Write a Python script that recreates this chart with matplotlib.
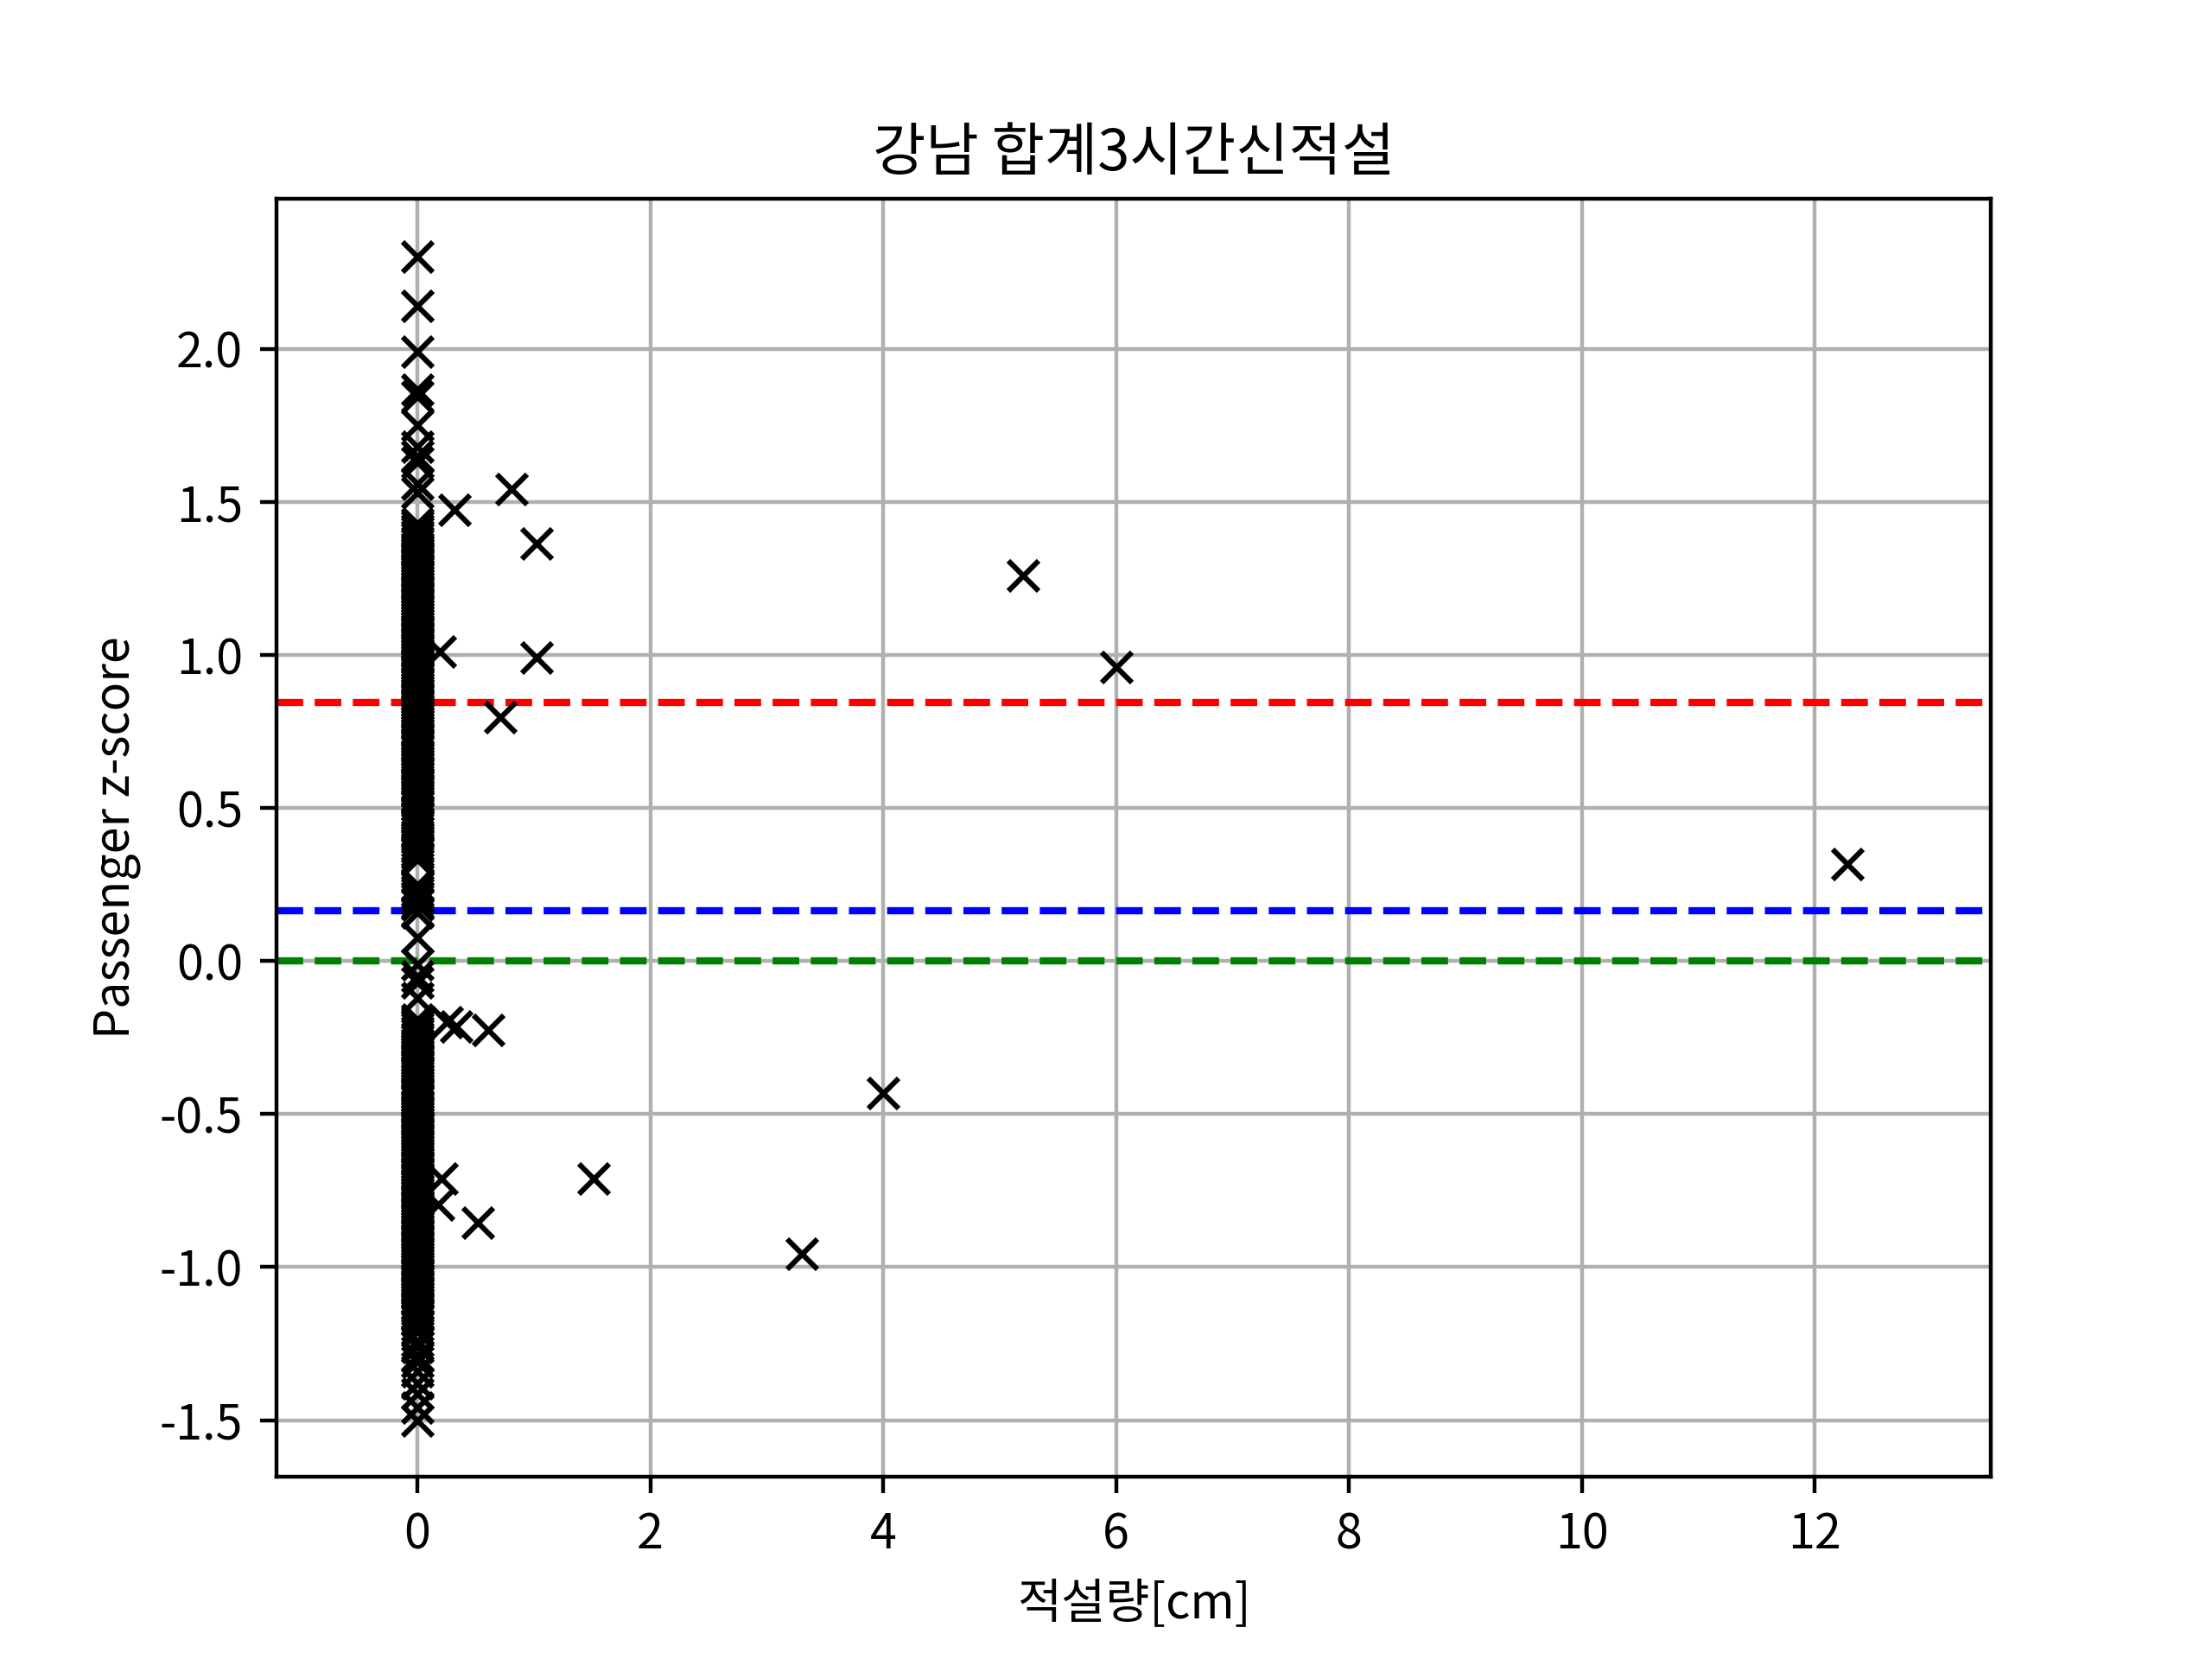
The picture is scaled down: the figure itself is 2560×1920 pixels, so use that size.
import matplotlib.pyplot as plt

plt.rcParams["font.family"] = ["Noto Sans CJK KR", "DejaVu Sans"]
plt.rcParams["axes.unicode_minus"] = False

# days without snow (적설량 0 cm): passenger z-scores
zero_snow_z = [
    2.30, 2.14, 1.99, 1.865, 1.845, 1.75, 1.68, 1.65, 1.63, 1.56, 1.53,
    1.43, 1.42, 1.41, 1.40, 1.39, 1.38, 1.37, 1.36, 1.35, 1.34,
    1.33, 1.32, 1.31, 1.30, 1.29, 1.28, 1.27, 1.26, 1.25, 1.24,
    1.23, 1.22, 1.21, 1.20, 1.19, 1.18, 1.17, 1.16, 1.15, 1.14,
    1.13, 1.12, 1.11, 1.10, 1.09, 1.08, 1.07, 1.06, 1.05, 1.04,
    1.03, 1.02, 1.01, 1.00, 0.99, 0.98, 0.97, 0.96, 0.95, 0.94,
    0.93, 0.92, 0.91, 0.90, 0.89, 0.88, 0.87, 0.86, 0.85, 0.84,
    0.83, 0.82, 0.81, 0.80, 0.79, 0.78, 0.77, 0.76, 0.75, 0.74,
    0.73, 0.72, 0.71, 0.70, 0.69, 0.67, 0.66, 0.65, 0.64, 0.63,
    0.62, 0.61, 0.60, 0.59, 0.58, 0.57, 0.56, 0.55, 0.54, 0.53,
    0.52, 0.51, 0.49, 0.48, 0.47, 0.45, 0.44, 0.42, 0.41, 0.40,
    0.39, 0.38, 0.37, 0.36, 0.35, 0.34, 0.33,
    0.25, 0.24, 0.23, 0.22, 0.21, 0.20, 0.19, 0.184, 0.16, 0.076,
    -0.01, -0.05, -0.07, -0.12,
    -0.19, -0.20, -0.21, -0.22, -0.23, -0.24, -0.25, -0.26, -0.27, -0.28,
    -0.29, -0.30, -0.31, -0.32, -0.33, -0.34, -0.35, -0.36, -0.37, -0.39,
    -0.40, -0.41, -0.42, -0.43, -0.44, -0.45, -0.46, -0.47, -0.48, -0.49,
    -0.50, -0.51, -0.52, -0.53, -0.54, -0.55, -0.56, -0.57, -0.58, -0.59,
    -0.60, -0.61, -0.62, -0.63, -0.64, -0.65, -0.66, -0.67, -0.68, -0.69,
    -0.70, -0.71, -0.72, -0.73, -0.74, -0.75, -0.76, -0.77, -0.78, -0.79,
    -0.80, -0.81, -0.82, -0.83, -0.84, -0.85, -0.86, -0.87, -0.88, -0.89,
    -0.90, -0.91, -0.92, -0.93, -0.94, -0.95, -0.96, -0.97, -0.98, -0.99,
    -1.00, -1.01, -1.02, -1.03, -1.04, -1.05, -1.06, -1.07, -1.08, -1.09,
    -1.10, -1.11, -1.12, -1.13, -1.14, -1.15, -1.16, -1.17,
    -1.19, -1.21, -1.24, -1.26, -1.29, -1.31, -1.34, -1.38, -1.415, -1.46, -1.50,
]

# days with snow
snow_cm = [0.19, 0.32, 0.81, 1.02, 1.02, 0.71, 5.2, 6.0, 12.28,
           0.25, 0.33, 0.61, 0.21, 0.18, 0.52, 1.51, 4.0, 3.3]
snow_z = [1.01, 1.473, 1.543, 1.363, 0.992, 0.797, 1.26, 0.96, 0.318,
          -0.20, -0.215, -0.225, -0.712, -0.795, -0.856, -0.712, -0.43, -0.955]

# reference lines
upper_line = 0.845
mid_line = 0.165
zero_line = 0.0

x_vals = [0.0] * len(zero_snow_z) + snow_cm
y_vals = zero_snow_z + snow_z

fig, ax = plt.subplots(figsize=(6.4, 4.8), dpi=400)

ax.axhline(upper_line, color="red", linestyle="--")
ax.axhline(mid_line, color="blue", linestyle="--")
ax.axhline(zero_line, color="green", linestyle="--")
ax.plot(x_vals, y_vals, "x", color="black", linestyle="none",
        markersize=6.3, markeredgewidth=1.1)

ax.set_xlim(-1.21, 13.51)
ax.set_ylim(-1.684, 2.489)
ax.grid(True)
ax.set_title("강남 합계3시간신적설")
ax.set_xlabel("적설량[cm]")
ax.set_ylabel("Passenger z-score")

plt.savefig("out.png", dpi=400)
plt.close()
